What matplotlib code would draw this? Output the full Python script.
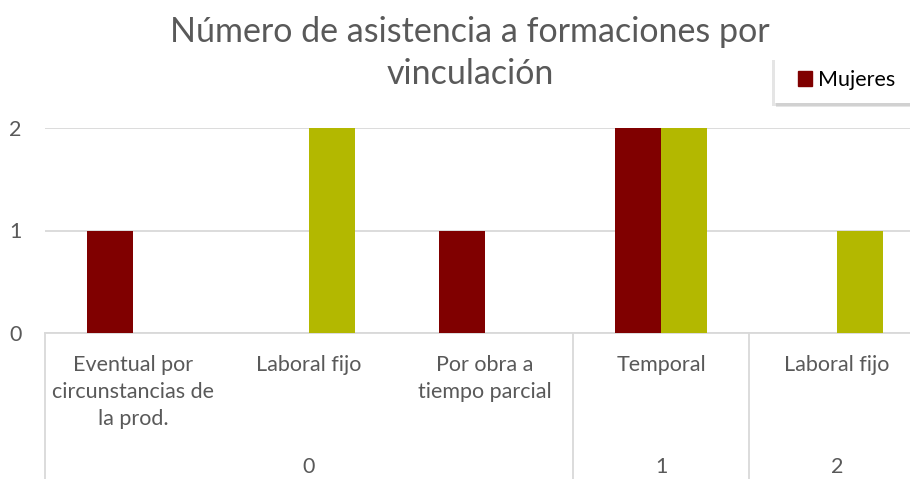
import matplotlib
matplotlib.use("Agg")
import matplotlib.pyplot as plt
import matplotlib.transforms as mtransforms
import matplotlib.patheffects as pe
from matplotlib.patches import Patch, Rectangle

# data
categories = ["Eventual por\ncircunstancias de\nla prod.", "Laboral fijo",
              "Por obra a\ntiempo parcial", "Temporal", "Laboral fijo"]
groups = ["0", "1", "2"]
group_spans = [(0, 2), (3, 3), (4, 4)]
mujeres = [1, 0, 1, 2, 0]
hombres = [0, 2, 0, 2, 1]

red = "#800000"
olive = "#B3B800"
text_grey = "#595959"
line_grey = "#D9D9D9"

plt.rcParams["font.family"] = ["Lato", "DejaVu Sans"]

fig = plt.figure(figsize=(9.10, 4.79), dpi=100)
W, H = 910, 479
ax = fig.add_axes([45 / W, (H - 333) / H, 880 / W, (333 - 128) / H])

x = list(range(len(categories)))
bw = 0.26
ax.bar([i - bw / 2 for i in x], mujeres, width=bw, color=red, zorder=3)
ax.bar([i + bw / 2 for i in x], hombres, width=bw, color=olive, zorder=3)

ax.set_xlim(-0.5, len(categories) - 0.5)
ax.set_ylim(0, 2)
ax.set_yticks([0, 1, 2])
ax.grid(axis="y", color=line_grey, linewidth=1.3, zorder=0)
for s in ["top", "right", "left"]:
    ax.spines[s].set_visible(False)
ax.spines["bottom"].set_color(line_grey)
ax.spines["bottom"].set_linewidth(1.3)
ax.tick_params(axis="y", length=0, pad=17, labelsize=15.5, labelcolor=text_grey)

ax.set_xticks(x)
ax.set_xticklabels(categories, linespacing=1.42)
ax.tick_params(axis="x", length=0, pad=16, labelsize=15.5, labelcolor=text_grey)

# multi-level axis separators and group labels
trans = mtransforms.blended_transform_factory(ax.transData, ax.transAxes)
for lo, hi in group_spans:
    ax.plot([lo - 0.5, lo - 0.5], [0, -0.8], transform=trans, color=line_grey,
            linewidth=1.3, clip_on=False)
trans2 = mtransforms.blended_transform_factory(ax.transData, fig.transFigure)
for (lo, hi), g in zip(group_spans, groups):
    ax.text((lo + hi) / 2, (H - 467) / H, g, transform=trans2, ha="center",
            va="center", fontsize=15.5, color=text_grey)

fig.text(470 / W, (H - 53) / H, "Número de asistencia a formaciones por\nvinculación",
         ha="center", va="center", fontsize=24.5, color=text_grey, linespacing=1.35)

# legend box with soft shadow, running off the right edge
box = Rectangle((775 / W, (H - 103) / H), 150 / W, 46 / H, transform=fig.transFigure,
                facecolor="white", edgecolor="none", zorder=4)
box.set_path_effects([
    pe.SimplePatchShadow(offset=(-2, -2), shadow_rgbFace="#999999", alpha=0.25),
    pe.SimplePatchShadow(offset=(1, -3), shadow_rgbFace="#999999", alpha=0.25),
    pe.Normal()])
fig.patches.append(box)

leg = fig.legend(handles=[Patch(color=red, label="Mujeres")], loc="center left",
                 bbox_to_anchor=(798 / W, (H - 80) / H), frameon=False,
                 fontsize=15.5, handlelength=0.65, handleheight=0.65, handletextpad=0.3,
                 borderpad=0, borderaxespad=0)
leg.set_zorder(5)
for t in leg.get_texts():
    t.set_color("black")

fig.savefig("out.png", dpi=100)
